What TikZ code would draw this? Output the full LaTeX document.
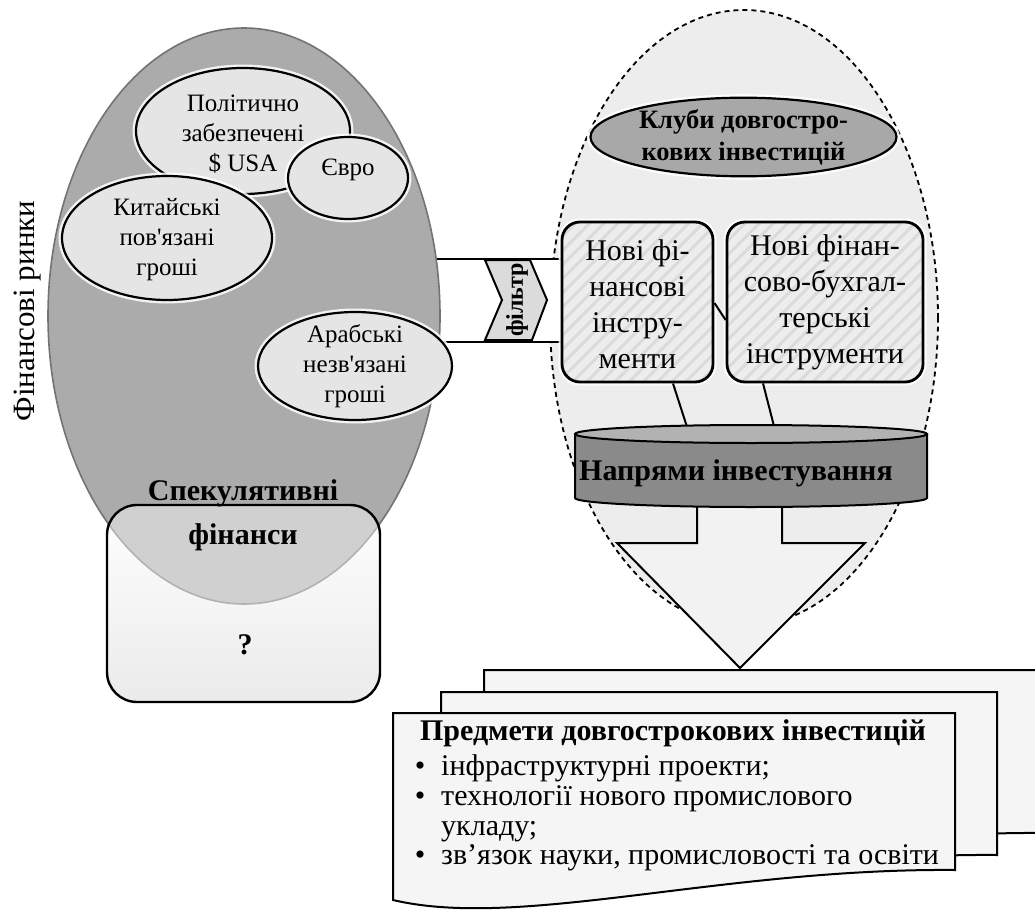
\documentclass[tikz,border=0pt]{standalone}
\usepackage{fontspec}
\setmainfont{Liberation Serif}[Ligatures=TeXOff]
\usetikzlibrary{shapes.geometric,patterns.meta}
\begin{document}
\begin{tikzpicture}[x=1pt,y=-1pt,
  lbl/.style={inner sep=0pt,align=center},
  glow/.style={preaction={draw=white,line width=7pt,draw opacity=0.85}},
  inell/.style={ellipse,glow,draw,line width=2.2pt,fill=black!10,inner sep=0pt},
  ftxt/.style={lbl,font=\fontsize{25}{30}\selectfont},
  fbox/.style={glow,draw,line width=2.8pt,rounded corners=18pt,preaction={fill=black!7},
    pattern={Lines[angle=45,distance=10pt,line width=3pt]},pattern color=black!14,inner sep=0pt},
  btxt/.style={lbl,font=\fontsize{30}{36}\selectfont},
  doc/.style={draw,line width=2pt,fill=black!4},
  bold30/.style={lbl,font=\bfseries\fontsize{30}{30}\selectfont},
  reg30/.style={lbl,font=\fontsize{30}{30}\selectfont},
  conn/.style={line width=2pt}
]
\useasboundingbox (0,0) rectangle (1035,912);

% right dashed region
\node[ellipse,draw,line width=1.8pt,dash pattern=on 5pt off 4pt,fill=black!7,
  minimum width=388pt,minimum height=616pt,inner sep=0pt] (clubzone) at (744,318) {};

% filter band
\fill[white] (400,259) rectangle (562,342);
\draw[conn] (400,259) -- (562,259);
\draw[conn] (400,342) -- (562,342);

% shading behind the speculative box
\shade[top color=white,bottom color=black!14,rounded corners=30pt] (107,505) rectangle (380,702);

% big market ellipse
\node[ellipse,draw=black!55,line width=1.6pt,fill=black!33,minimum width=392pt,
  minimum height=576pt,inner sep=0pt] (market) at (244,316) {};

% chevron filter
\draw[conn,fill=black!14] (485,260) -- (530,260) -- (547,300) -- (532,340) -- (485,340) -- (502,300) -- cycle;
\node[lbl,rotate=90,font=\bfseries\fontsize{24}{24}\selectfont] (filter) at (517,300) {фільтр};

% inner ellipses
\node[inell,minimum width=214pt,minimum height=126pt] (usd) at (243,131) {};
\node[inell,minimum width=120pt,minimum height=82pt] (eur) at (348,178) {};
\node[inell,minimum width=210pt,minimum height=124pt] (cny) at (167,238) {};
\node[inell,minimum width=194pt,minimum height=108pt] (arab) at (355,366) {};
\node[ftxt] (usdt) at (243,134) {Політично\\забезпечені\\\$ USA};
\node[ftxt] (eurt) at (348,170) {Євро};
\node[ftxt] (cnyt) at (167,240) {Китайські\\пов'язані\\гроші};
\node[ftxt] (arabt) at (355,366) {Арабські\\незв'язані\\гроші};

% vertical label
\node[lbl,rotate=90,font=\fontsize{31}{31}\selectfont] (fr) at (28,311) {Фінансові ринки};

% speculative box
\node[draw,line width=2.4pt,rounded corners=30pt,fill=white,fill opacity=0.45,
  minimum width=273pt,minimum height=197pt,inner sep=0pt] (spec) at (243.5,603.5) {};
\node[bold30] (spect) at (243,493) {Спекулятивні};
\node[bold30] (spect2) at (243,537) {фінанси};
\node[bold30] (q) at (245,645) {?};

% clubs
\node[ellipse,glow,draw,line width=2.2pt,fill=black!34,minimum width=306pt,minimum height=78pt,
  inner sep=0pt,align=center,font=\bfseries\fontsize{26.5}{32}\selectfont] (clubs) at (743.5,137)
  {Клуби довгостро-\\кових інвестицій};

% instrument boxes
\node[fbox,minimum width=151pt,minimum height=160pt] (fin) at (637.5,302) {};
\node[btxt] (fint) at (637.5,304) {Нові фі-\\нансові\\інстру-\\менти};
\node[fbox,minimum width=196pt,minimum height=160pt] (acc) at (825,302) {};
\node[btxt] (acct) at (825,302) {Нові фінан-\\сово-бухгал-\\терські\\інструменти};
\draw[conn] ([yshift=-1pt]fin.east) -- ([yshift=-18pt]acc.west);

% arrow
\coordinate (tip) at (740,668);
\draw[conn,fill=black!5] (697,490) -- (697,543) -- (617,543) -- (tip) -- (865,543) -- (782,543) -- (782,490);

% connectors to cylinder
\coordinate (c1) at (688,430);
\coordinate (c2) at (775,430);
\draw[conn] ([xshift=35.5pt]fin.south) -- (c1);
\draw[conn] ([xshift=-62pt]acc.south) -- (c2);

% cylinder
\path[draw,line width=2pt,fill=black!46] (575,434) -- (575,498) arc[start angle=180,end angle=0,x radius=176,y radius=9] -- (927,434) -- cycle;
\draw[line width=2pt,fill=black!30] (751,434) ellipse[x radius=176,y radius=9];
\node[bold30] (dir) at (736,473) {Напрями інвестування};

% documents
\draw[doc] (484,670) -- (1045,670) -- (1045,833) .. controls (810,831) and (611,893) .. (484,863) -- cycle;
\draw[doc] (441,692) -- (997,692) -- (997,855) .. controls (762,853) and (568,915) .. (441,885) -- cycle;
\draw[doc] (393,713) -- (955,713) -- (955,870) .. controls (720,868) and (520,930) .. (393,900) -- cycle;

\node[bold30,anchor=base] (subj) at (673,740) {Предмети довгострокових інвестицій};
\node[reg30,anchor=base] (d1) at (420,775) {•};
\node[reg30,anchor=base west] (b1) at (441,775) {інфраструктурні проекти;};
\node[reg30,anchor=base] (d2) at (420,805) {•};
\node[reg30,anchor=base west] (b2) at (441,805) {технології нового промислового};
\node[reg30,anchor=base west] (b2b) at (441,835) {укладу;};
\node[reg30,anchor=base] (d3) at (420,864) {•};
\node[reg30,anchor=base west] (b3) at (441,864) {зв’язок науки, промисловості та освіти};
\end{tikzpicture}
\end{document}
